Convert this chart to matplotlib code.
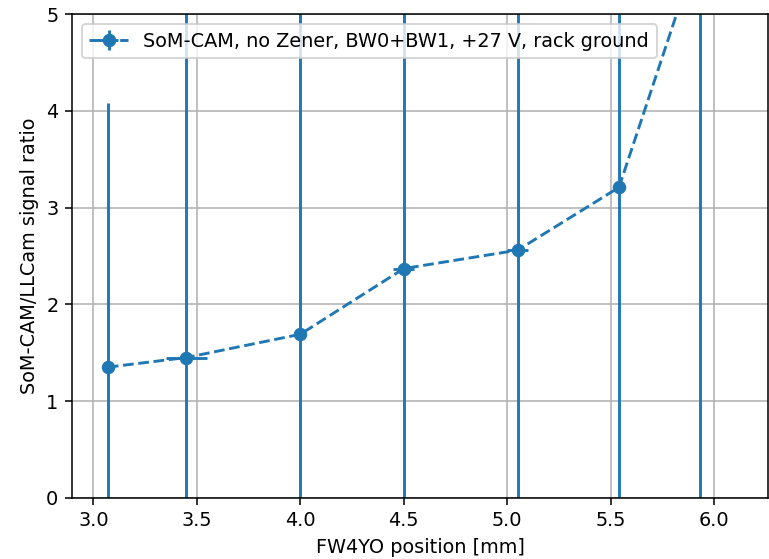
import numpy as np
import matplotlib.pyplot as plt

# FW4YO scan, SoM-CAM / LLCam ratio
position = [3.07, 3.45, 4.00, 4.50, 5.05, 5.54, 5.93]
ratio = [1.35, 1.45, 1.69, 2.37, 2.56, 3.21, 5.72]
ratio_err = [2.73, 6.0, 6.0, 6.0, 6.0, 6.0, 8.0]
position_err = [0.01, 0.10, 0.03, 0.05, 0.05, 0.03, 0.03]

label = "SoM-CAM, no Zener, BW0+BW1, +27 V, rack ground"

DPI = 139
fig = plt.figure(figsize=(769 / DPI, 559 / DPI), dpi=DPI)
ax = fig.add_axes([72 / 769, (559 - 497.7) / 559, (768 - 72) / 769, (497.7 - 14.3) / 559])

ax.errorbar(position, ratio, yerr=ratio_err, xerr=position_err, fmt="o--", label=label)

ax.set_xlim(2.897, 6.26)
ax.set_ylim(0, 5)
ax.set_xlabel("FW4YO position [mm]")
ax.set_ylabel("SoM-CAM/LLCam signal ratio")
ax.grid()
ax.legend(loc="upper left")

fig.savefig("out.png", dpi=DPI)
